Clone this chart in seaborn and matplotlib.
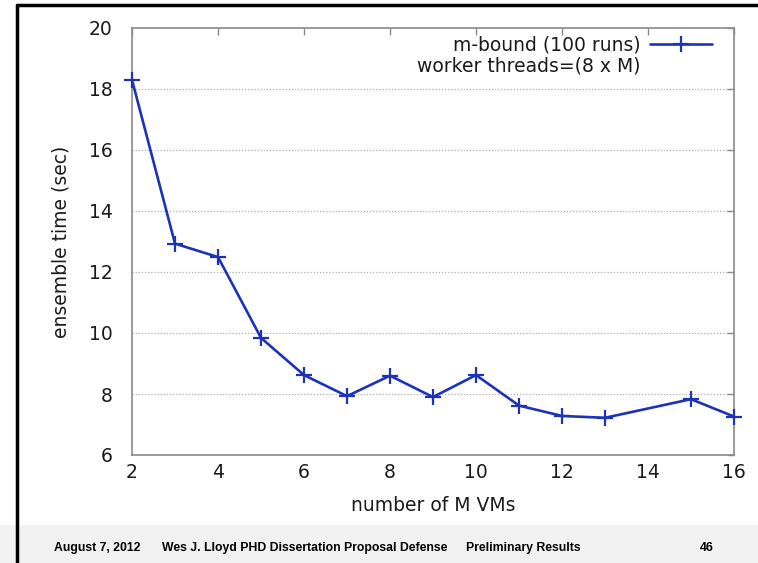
import matplotlib
matplotlib.use("Agg")
import matplotlib.pyplot as plt
from matplotlib.lines import Line2D
from matplotlib.patches import Rectangle
import seaborn as sns
import pandas as pd

# values
num_vms = [2, 3, 4, 5, 6, 7, 8, 9, 10, 11, 12, 13, 15, 16]
ensemble_time = [18.3, 12.93, 12.49, 9.84, 8.62, 7.93, 8.6, 7.9, 8.62, 7.62, 7.28, 7.22, 7.83, 7.26]
x_ticks = [2, 4, 6, 8, 10, 12, 14, 16]
y_ticks = [6, 8, 10, 12, 14, 16, 18, 20]
footer = ["August 7, 2012", "Wes J. Lloyd PHD Dissertation Proposal Defense",
          "Preliminary Results", "46"]

LINE_COLOR = "#1c33b8"
AXIS_GREY = "#8a8a8a"
TEXT_COLOR = "#1a1a1a"

sns.set_theme(style="white")
plt.rcParams["font.family"] = ["DejaVu Sans"]

df = pd.DataFrame({"vms": num_vms, "time": ensemble_time})

fig = plt.figure(figsize=(7.58, 5.63), dpi=100)
ax = fig.add_axes([132 / 758, 108 / 563, 602 / 758, 427 / 563])

sns.lineplot(data=df, x="vms", y="time", ax=ax, color=LINE_COLOR,
             linewidth=1.9, marker="+", markersize=11, mew=1.6,
             mec=LINE_COLOR, label="m-bound (100 runs)", clip_on=False, zorder=3)

ax.set_xlim(2, 16)
ax.set_ylim(6, 20)
ax.set_xticks(x_ticks)
ax.set_yticks(y_ticks)
ax.tick_params(direction="in", length=5, width=1, color=AXIS_GREY,
               top=True, right=True, labelsize=13.5, labelcolor=TEXT_COLOR)
ax.tick_params(axis="x", pad=6)
ax.tick_params(axis="y", pad=14)
for s in ax.spines.values():
    s.set_color(AXIS_GREY)
    s.set_linewidth(1.2)
ax.grid(False)
for yv in y_ticks[1:-1]:
    ax.axhline(yv, color="#b0b0b0", linestyle=(0, (1, 1.5)), linewidth=0.9, zorder=0)

ax.set_xlabel("number of M VMs", fontsize=13.5, color=TEXT_COLOR, labelpad=10)
ax.set_ylabel("ensemble time (sec)", fontsize=13.5, color=TEXT_COLOR, labelpad=13)

# legend: text on left, sample on the right; second line without a sample
blank = Line2D([], [], color="none")
handles, labels = ax.get_legend_handles_labels()
leg = ax.legend(handles + [blank], labels + ["worker threads=(8 x M)"],
                loc="upper right", bbox_to_anchor=(0.988, 1.018),
                markerfirst=False, frameon=False, fontsize=13.5,
                handlelength=3.3, handletextpad=0.5, labelspacing=0.1,
                borderpad=0.3)
for t in leg.get_texts():
    t.set_color(TEXT_COLOR)

# slide chrome: black frame lines and grey footer band
fig.patches.append(Rectangle((0, 0), 1, 38 / 563, transform=fig.transFigure,
                             facecolor="#f1f1f1", edgecolor="none", zorder=0))
fig.add_artist(Line2D([17 / 758, 17 / 758], [0, 1 - 5 / 563], transform=fig.transFigure,
                      color="black", linewidth=2.5))
fig.add_artist(Line2D([17 / 758, 1], [1 - 5 / 563, 1 - 5 / 563], transform=fig.transFigure,
                      color="black", linewidth=2.5))

foot_x = [54, 162, 466, 700]
for px, txt in zip(foot_x, footer):
    fig.text(px / 758, 15 / 563, txt, fontsize=8.8, fontweight="bold",
             family="Liberation Sans", color="black", va="center", ha="left")

fig.savefig("out.png", dpi=100)
